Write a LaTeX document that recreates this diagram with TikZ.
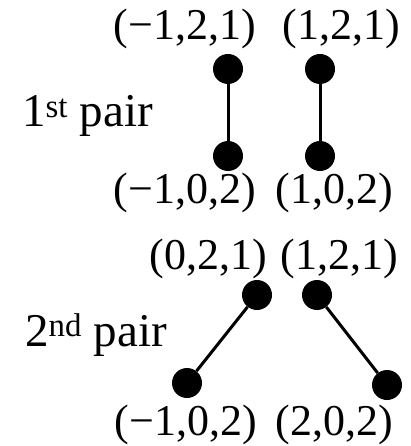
\documentclass[tikz,border=0pt]{standalone}
\usepackage{fontspec}
\setmainfont{Liberation Serif}
\begin{document}
\begin{tikzpicture}[x=1pt,y=-1pt,
  dot/.style={circle,fill=black,inner sep=0pt,minimum width=30pt,minimum height=28pt},
  lbl/.style={inner sep=0pt,font=\fontsize{44}{50}\selectfont},
  pairlbl/.style={inner sep=0pt,anchor=base west,font=\fontsize{47}{52}\selectfont},
  edge/.style={line width=3pt}]
\useasboundingbox (0,0) rectangle (410,446);
% first pair
\node[dot] (a1) at (228,69) {};
\node[dot] (a2) at (228,156) {};
\node[dot] (b1) at (320,69) {};
\node[dot] (b2) at (320,156) {};
\draw[edge] (a1) -- (a2);
\draw[edge] (b1) -- (b2);
\node[lbl] (la1) at (185,29) {(−1,2,1)};
\node[lbl] (lb1) at (341,29) {(1,2,1)};
\node[lbl] (la2) at (185,193) {(−1,0,2)};
\node[lbl] (lb2) at (334,193) {(1,0,2)};
\node[pairlbl] (p1) at (22,127) {1\textsuperscript{st} pair};
% second pair
\node[dot] (c1) at (257,295) {};
\node[dot] (c2) at (187,383) {};
\node[dot] (d1) at (317,295) {};
\node[dot] (d2) at (387,385) {};
\draw[edge] (c1) -- (c2);
\draw[edge] (d1) -- (d2);
\node[lbl] (lc1) at (208,259) {(0,2,1)};
\node[lbl] (ld1) at (339,259) {(1,2,1)};
\node[lbl] (lc2) at (186,425) {(−1,0,2)};
\node[lbl] (ld2) at (334,425) {(2,0,2)};
\node[pairlbl] (p2) at (25,346) {2\textsuperscript{nd} pair};
\end{tikzpicture}
\end{document}
